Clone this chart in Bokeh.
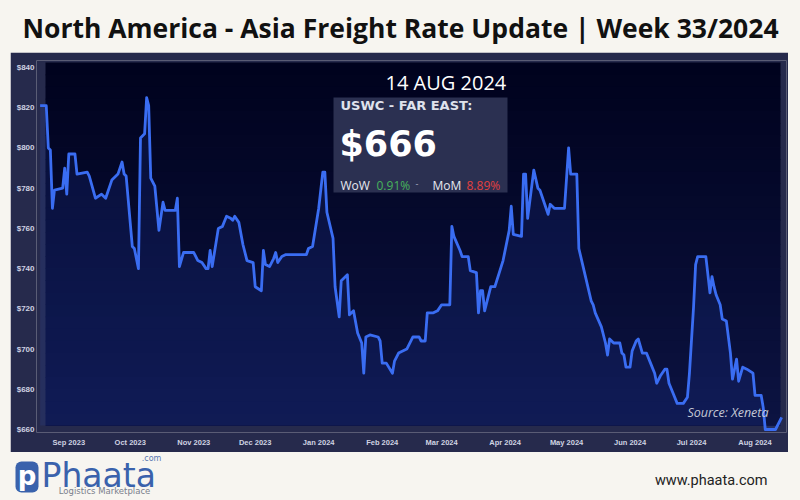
import pandas as pd
from bokeh.plotting import figure
from bokeh.models import (Range1d, Label, BoxAnnotation, MonthsTicker,
                          DatetimeTickFormatter, FixedTicker, PrintfTickFormatter)
from bokeh.layouts import column, row
from bokeh.embed import file_html
from bokeh.resources import INLINE

# ---------------- data ----------------
dates = [
    "2023-08-18", "2023-08-21", "2023-08-22", "2023-08-23", "2023-08-24", "2023-08-25",
    "2023-08-29", "2023-08-30", "2023-08-31", "2023-09-01", "2023-09-04", "2023-09-05",
    "2023-09-10", "2023-09-11", "2023-09-14", "2023-09-17", "2023-09-19", "2023-09-20",
    "2023-09-22", "2023-09-25", "2023-09-27", "2023-09-28", "2023-09-29", "2023-10-02",
    "2023-10-03", "2023-10-05", "2023-10-06", "2023-10-08", "2023-10-09", "2023-10-10",
    "2023-10-11", "2023-10-13", "2023-10-15", "2023-10-17", "2023-10-18", "2023-10-23",
    "2023-10-24", "2023-10-25", "2023-10-27", "2023-11-01", "2023-11-03", "2023-11-05",
    "2023-11-07", "2023-11-08", "2023-11-09", "2023-11-10", "2023-11-13", "2023-11-15",
    "2023-11-17", "2023-11-19", "2023-11-20", "2023-11-21", "2023-11-23", "2023-11-25",
    "2023-11-27", "2023-11-30", "2023-12-01", "2023-12-04", "2023-12-05", "2023-12-06",
    "2023-12-08", "2023-12-10", "2023-12-11", "2023-12-12", "2023-12-14", "2023-12-16",
    "2023-12-26", "2023-12-27", "2023-12-29", "2024-01-01", "2024-01-03", "2024-01-04",
    "2024-01-05", "2024-01-08", "2024-01-09", "2024-01-11", "2024-01-12", "2024-01-15",
    "2024-01-16", "2024-01-18", "2024-01-20", "2024-01-22", "2024-01-23", "2024-01-24",
    "2024-01-26", "2024-01-30", "2024-01-31", "2024-02-01", "2024-02-03", "2024-02-06",
    "2024-02-07", "2024-02-09", "2024-02-11", "2024-02-13", "2024-02-16", "2024-02-19",
    "2024-02-20", "2024-02-22", "2024-02-23", "2024-02-26", "2024-02-28", "2024-03-01",
    "2024-03-05", "2024-03-06", "2024-03-07", "2024-03-10", "2024-03-11", "2024-03-14",
    "2024-03-15", "2024-03-18", "2024-03-19", "2024-03-20", "2024-03-21", "2024-03-22",
    "2024-03-25", "2024-03-27", "2024-03-31", "2024-04-03", "2024-04-04", "2024-04-05",
    "2024-04-09", "2024-04-10", "2024-04-11", "2024-04-12", "2024-04-15", "2024-04-17",
    "2024-04-18", "2024-04-22", "2024-04-23", "2024-04-25", "2024-04-30", "2024-05-02",
    "2024-05-03", "2024-05-06", "2024-05-07", "2024-05-10", "2024-05-13", "2024-05-14",
    "2024-05-15", "2024-05-18", "2024-05-20", "2024-05-21", "2024-05-22", "2024-05-24",
    "2024-05-27", "2024-05-28", "2024-05-29", "2024-05-30", "2024-06-01", "2024-06-02",
    "2024-06-04", "2024-06-05", "2024-06-07", "2024-06-09", "2024-06-11", "2024-06-13",
    "2024-06-14", "2024-06-16", "2024-06-18", "2024-06-19", "2024-06-20", "2024-06-22",
    "2024-06-24", "2024-06-27", "2024-06-29", "2024-06-30", "2024-07-02", "2024-07-03",
    "2024-07-04", "2024-07-08", "2024-07-09", "2024-07-10", "2024-07-11", "2024-07-12",
    "2024-07-13", "2024-07-15", "2024-07-16", "2024-07-18", "2024-07-20", "2024-07-21",
    "2024-07-23", "2024-07-24", "2024-07-26", "2024-07-28", "2024-07-31", "2024-08-01",
    "2024-08-04", "2024-08-05", "2024-08-06", "2024-08-08", "2024-08-11", "2024-08-14",
]
rates = [
    821, 821, 800, 799, 770, 779,
    780, 790, 777, 797, 797, 787,
    788, 786, 775, 777, 775, 778,
    784, 787, 793, 787, 786, 751,
    750, 740, 805, 807, 825, 821,
    785, 781, 759, 773, 769, 769,
    775, 741, 748, 748, 744, 743,
    740, 740, 749, 741, 760, 761,
    766, 765, 764, 766, 763, 752,
    744, 743, 731, 729, 749, 742,
    741, 745, 748, 743, 746, 747,
    747, 750, 751, 770, 788, 788,
    768, 755, 731, 716, 734, 737,
    717, 719, 708, 703, 688, 706,
    707, 706, 704, 693, 693, 688,
    694, 698, 699, 700, 706, 706,
    704, 704, 718, 718, 719, 722,
    722, 761, 756, 749, 746, 746,
    739, 738, 718, 729, 729, 719,
    731, 731, 744, 759, 771, 757,
    756, 787, 787, 765, 789, 780,
    779, 767, 772, 770, 770, 800,
    787, 787, 750, 737, 724, 722,
    718, 711, 703, 697, 705, 703,
    703, 698, 697, 691, 691, 699,
    704, 705, 698, 698, 693, 688,
    683, 687, 690, 690, 683, 678,
    673, 673, 676, 688, 721, 742,
    746, 746, 737, 728, 736, 731,
    727, 722, 715, 714, 698, 685,
    695, 684, 691, 690, 688, 677,
    677, 671, 660, 660, 660, 666,
]
y_ticks = [660, 680, 700, 720, 740, 760, 780, 800, 820, 840]

title_text = "North America - Asia Freight Rate Update | Week 33/2024"
update_date = "14 AUG 2024"
route_text = "USWC - FAR EAST:"
latest_rate = "$666"
wow_label, wow_change = "WoW", "0.91%"
mom_label, mom_change = "MoM", "8.89%"
source_text = "Source: Xeneta"
site_text = "www.phaata.com"

# ---------------- style ----------------
PAGE_BG = "#f7f5f0"
PANEL = "#262a4c"
LINE = "#3a6df2"
TICK_TXT = "#cfd3e2"
LOGO_BLUE = "#3a62ac"

dt = pd.to_datetime(dates)

# geometry helpers (page pixels -> chart data), used only for decorations
X0 = pd.Timestamp("2023-09-01")
PX0 = 68.3      # page x of 1 Sep 2023
PPD = 2.0484    # pixels per day


def px_to_x(px):
    return (X0 + pd.Timedelta(days=(px - PX0) / PPD)).value / 1e6


def py_to_y(py):
    return 840 - (py - 67) / 2.0111


def banner(height):
    f = figure(width=800, height=height,
               x_range=Range1d(0, 800), y_range=Range1d(height, 0),
               x_axis_location=None, y_axis_location=None,
               min_border=0, min_border_left=0, min_border_right=0,
               min_border_top=0, min_border_bottom=0,
               toolbar_location=None, output_backend="svg")
    f.grid.visible = False
    f.outline_line_color = None
    f.background_fill_color = PAGE_BG
    f.border_fill_color = PAGE_BG
    return f


# ---------------- title ----------------
pt = banner(52)
pt.add_layout(Label(x=400, y=27, text=title_text, text_align="center",
                    text_baseline="middle", text_font="Open Sans",
                    text_font_style="bold", text_font_size="26.5px",
                    text_color="#111111"))

# ---------------- chart ----------------
p = figure(width=778, height=400, x_axis_type="datetime",
           x_range=Range1d(px_to_x(36), px_to_x(786)),
           y_range=Range1d(py_to_y(432), py_to_y(60)),
           min_border_left=26, min_border_right=2, min_border_top=8,
           min_border_bottom=20, toolbar_location=None, output_backend="svg",
           margin=(0, 12, 0, 10))
p.background_fill_color = PANEL
p.border_fill_color = PANEL
p.outline_line_color = None
p.grid.visible = False

# inner dark gradient panel
n = 30
top_px, bot_px = 62.0, 425.0
c0, c1 = (0, 2, 29), (12, 19, 66)
lefts, rights, tops, bots, cols = [], [], [], [], []
for i in range(n):
    a = top_px + (bot_px - top_px) * i / n
    b = top_px + (bot_px - top_px) * (i + 1) / n
    f = (i + 0.5) / n
    c = tuple(int(round(c0[k] + (c1[k] - c0[k]) * f)) for k in range(3))
    lefts.append(px_to_x(45)); rights.append(px_to_x(780))
    tops.append(py_to_y(a)); bots.append(py_to_y(b + 0.6))
    cols.append("#%02x%02x%02x" % c)
p.quad(left=lefts, right=rights, top=tops, bottom=bots, fill_color=cols,
       line_color=None)

p.varea(x=dt, y1=py_to_y(425), y2=rates, fill_color="#2a50d0", fill_alpha=0.14)
p.line(dt, rates, line_color=LINE, line_width=2.8, line_join="round")

# axes
p.xaxis.ticker = MonthsTicker(months=list(range(12)))
p.xaxis.formatter = DatetimeTickFormatter(months="%b %Y", days="%b %Y",
                                          years="%b %Y")
p.yaxis.ticker = FixedTicker(ticks=y_ticks)
p.yaxis.formatter = PrintfTickFormatter(format="$%d")
for ax in (p.xaxis[0], p.yaxis[0]):
    ax.axis_line_color = None
    ax.major_tick_line_color = None
    ax.minor_tick_line_color = None
    ax.major_tick_in = 0
    ax.major_tick_out = 0
    ax.major_label_text_color = TICK_TXT
    ax.major_label_text_font = "Liberation Sans"
    ax.major_label_text_font_style = "bold"
p.xaxis.major_label_text_font_size = "7.5px"
p.yaxis.major_label_text_font_size = "8px"
p.xaxis.major_label_standoff = 5
p.yaxis.major_label_standoff = 2

# info box
p.add_layout(BoxAnnotation(left=px_to_x(333), right=px_to_x(507),
                           top=py_to_y(97), bottom=py_to_y(192),
                           fill_color="#2b3051", fill_alpha=1.0, line_color=None))


def lab(px, py, text, size, color, font="Open Sans", style="normal",
        align="left"):
    p.add_layout(Label(x=px_to_x(px), y=py_to_y(py), text=text,
                       text_font=font, text_font_size=size, text_color=color,
                       text_font_style=style, text_align=align,
                       text_baseline="alphabetic"))


lab(385, 82, update_date, "20px", "#ffffff")
lab(340, 105, route_text, "13px", "#dfe2ec", font="DejaVu Sans", style="bold")
lab(339, 143, latest_rate, "35px", "#ffffff", font="DejaVu Sans", style="bold")
lab(340, 185, wow_label, "12px", "#e6e8f0")
lab(376, 185, wow_change, "12px", "#47b35b")
lab(415, 183, "-", "9px", "#aab0c4")
lab(432, 185, mom_label, "12px", "#e6e8f0")
lab(466, 185, mom_change, "12px", "#e2403f")
lab(768, 412, source_text, "12.5px", "#c5c8d5", style="italic", align="right")

# ---------------- footer ----------------
pf = banner(48)
pf.add_layout(BoxAnnotation(left=15, right=38, top=9, bottom=40,
                            fill_color=LOGO_BLUE, fill_alpha=1.0,
                            line_color=None, border_radius=6))
pf.add_layout(Label(x=26.5, y=23, text="p", text_align="center",
                    text_baseline="middle", text_font="DejaVu Sans",
                    text_font_style="bold", text_font_size="26px",
                    text_color="#ffffff"))
pf.add_layout(Label(x=41, y=23, text="Phaata", text_align="left",
                    text_baseline="alphabetic", text_font="DejaVu Sans",
                    text_font_size="33px", text_color=LOGO_BLUE))
pf.add_layout(Label(x=151, y=6, text=".com", text_align="center",
                    text_baseline="middle", text_font="DejaVu Sans",
                    text_font_size="8px", text_color="#5a77b0"))
pf.add_layout(Label(x=104, y=38, text="Logistics Marketplace", text_align="center",
                    text_baseline="middle", text_font="DejaVu Sans",
                    text_font_size="8.5px", text_color="#7a7f8c"))
pf.add_layout(Label(x=767, y=28, text=site_text, text_align="right",
                    text_baseline="middle", text_font="Roboto",
                    text_font_size="14.5px", text_color="#222222"))

root = column(row(pt), row(p), row(pf), styles={"background-color": PAGE_BG})
open("out.html", "w").write(file_html(root, INLINE))
